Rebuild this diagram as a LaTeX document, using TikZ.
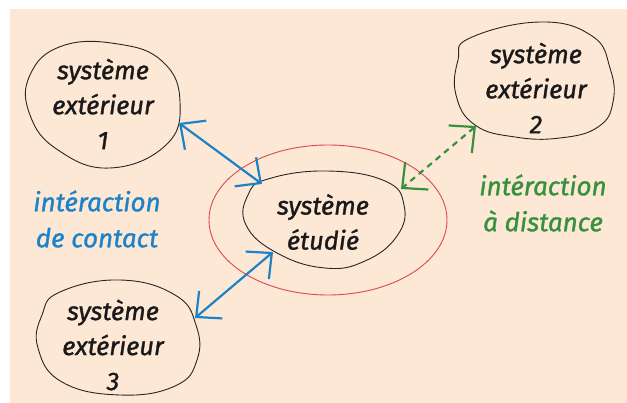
\documentclass[tikz,border=0pt]{standalone}
\usepackage{fontspec}
\setmainfont{Fira Sans}[ItalicFeatures={FakeBold=1.2}]
\usetikzlibrary{arrows.meta}
\definecolor{bg}{RGB}{253,232,214}
\definecolor{cblue}{RGB}{30,130,200}
\definecolor{cgreen}{RGB}{55,145,60}
\definecolor{cred}{RGB}{222,70,80}
\tikzset{
  blob/.style={draw=black!85, line width=0.9pt},
  lbl/.style={align=center, font=\fontsize{25.5}{35}\selectfont\itshape, text=black!90},
  clbl/.style={align=center, font=\fontsize{26}{36}\selectfont\itshape},
  contactarrow/.style={cblue, line width=2.2pt, {Straight Barb[length=19pt,width=36pt]}-{Straight Barb[length=19pt,width=36pt]}},
  distarrow/.style={cgreen, line width=2.2pt, dash pattern=on 6pt off 5pt, {Straight Barb[length=19pt,width=36pt]}-{Straight Barb[length=19pt,width=36pt]}}
}
\begin{document}
\begin{tikzpicture}[x=1pt,y=-1pt]
\useasboundingbox (0,0) rectangle (627,403);
\fill[white] (0,0) rectangle (627,403);
\fill[bg] (10,9) rectangle (627,403);
% red boundary
\draw[cred, line width=0.9pt] (328,220) ellipse [x radius=119, y radius=75];
% blobs
\draw[blob] plot[smooth cycle, tension=0.75] coordinates {(30,75) (62,46) (118,44) (163,62) (180,102) (166,145) (110,168) (58,150) (30,115)};
\draw[blob] plot[smooth cycle, tension=0.75] coordinates {(470,38) (540,22) (592,36) (610,68) (613,102) (598,127) (560,138) (515,137) (475,125) (456,95) (458,60)};
\draw[blob] plot[smooth cycle, tension=0.75] coordinates {(60,292) (120,280) (175,295) (196,325) (197,360) (175,386) (120,395) (62,382) (38,348) (42,315)};
\draw[blob] plot[smooth cycle, tension=0.75] coordinates {(268,179) (327,171) (385,181) (404,205) (397,236) (365,261) (325,268) (277,253) (246,225) (248,195)};
% texts
\node[lbl] (e1) at (103,104) {système\\extérieur\\1};
\node[lbl] (e2) at (536,88) {système\\extérieur\\2};
\node[lbl] (e3) at (113,345) {système\\extérieur\\3};
\node[lbl] (se) at (323,222) {système\\étudié};
\node[clbl, text=cblue] (lc) at (97,219) {intéraction\\de contact};
\node[clbl, text=cgreen] (ld) at (543,203) {intéraction\\à distance};
% connector endpoints on the blob outlines
\coordinate (p1) at (179,123);
\coordinate (q1) at (262,184);
\coordinate (p3) at (195,318);
\coordinate (q3) at (273,252);
\coordinate (p2) at (476,126);
\coordinate (q2) at (401,189);
\draw[contactarrow] (p1) -- (q1);
\draw[contactarrow] (p3) -- (q3);
\draw[distarrow] (p2) -- (q2);
\end{tikzpicture}
\end{document}
